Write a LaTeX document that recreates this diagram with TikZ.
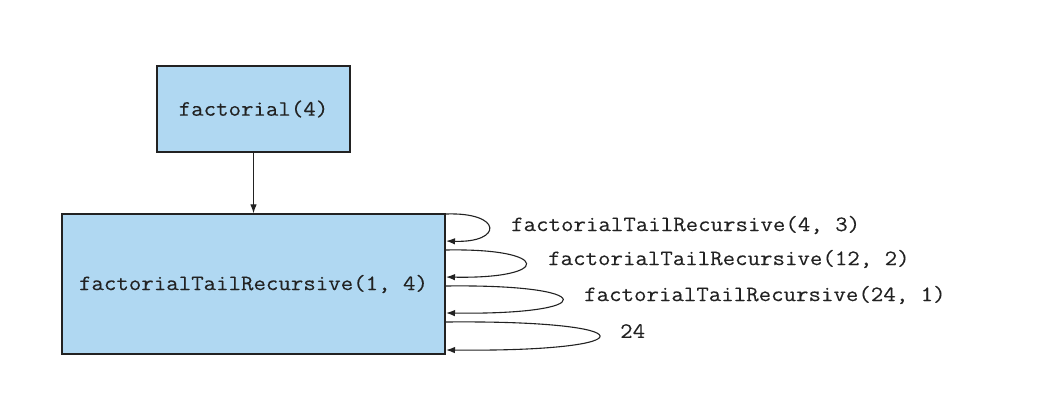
\documentclass[tikz,border=0pt]{standalone}
\usepackage{fontspec}
\setmonofont{Latin Modern Mono}[FakeStretch=1.1,FakeBold=0.15]
\usetikzlibrary{arrows.meta}
\definecolor{boxblue}{HTML}{B0D8F2}
\definecolor{ink}{HTML}{222222}
\begin{document}
\begin{tikzpicture}[x=1pt,y=-1pt,
  callbox/.style={draw=ink,line width=1.2pt,fill=boxblue,inner sep=0pt,
    font=\fontsize{22}{26}\selectfont\ttfamily,text=ink},
  lbl/.style={anchor=west,inner sep=0pt,font=\fontsize{22}{26}\selectfont\ttfamily,text=ink},
  conn/.style={draw=ink,line width=1.1pt,-{Latex[length=9pt,width=6.5pt]}}]
\useasboundingbox (0,0) rectangle (1040,401);
\node[callbox,minimum width=193pt,minimum height=86pt] (top) at (253.5,109) {factorial(4)};
\node[callbox,minimum width=383pt,minimum height=140pt] (big) at (253.5,284) {factorialTailRecursive(1, 4)};
\draw[conn] (top.south) -- (big.north -| top.south);
\coordinate (s1) at (446,214);
\coordinate (e1) at (446,241);
\coordinate (s2) at (446,250);
\coordinate (e2) at (446,277);
\coordinate (s3) at (446,286);
\coordinate (e3) at (446,313);
\coordinate (s4) at (446,322);
\coordinate (e4) at (446,350);
\draw[conn] (s1) .. controls (503,212) and (503,243) .. (e1);
\draw[conn] (s2) .. controls (552,248) and (552,279) .. (e2);
\draw[conn] (s3) .. controls (601,284) and (601,315) .. (e3);
\draw[conn] (s4) .. controls (650,320) and (650,352) .. (e4);
\node[lbl] (l1) at (511,225) {factorialTailRecursive(4, 3)};
\node[lbl] (l2) at (548,259) {factorialTailRecursive(12, 2)};
\node[lbl] (l3) at (584,295) {factorialTailRecursive(24, 1)};
\node[lbl] (l4) at (620,331) {24};
\end{tikzpicture}
\end{document}
